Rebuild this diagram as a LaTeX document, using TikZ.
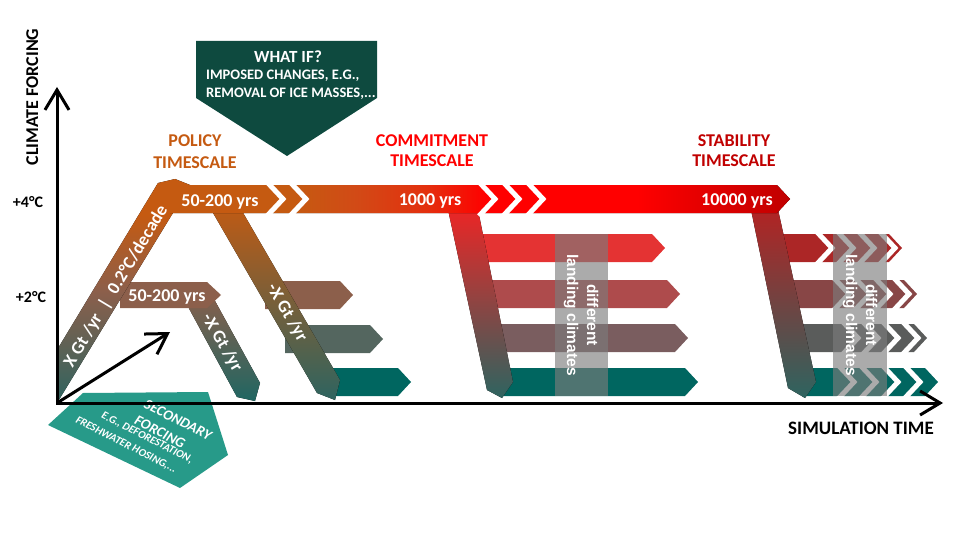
\documentclass[tikz,border=0pt]{standalone}
\usepackage{fontspec}
\setmainfont{Carlito}
\newfontfamily\arialfont{Liberation Sans}
\usetikzlibrary{arrows.meta}
\definecolor{cOr}{HTML}{C55A11}
\definecolor{cOrB}{HTML}{D24A16}
\definecolor{cRO}{HTML}{E3300E}
\definecolor{cRed}{HTML}{FF0000}
\definecolor{cDRed}{HTML}{C00000}
\definecolor{cBrown}{HTML}{8C5F4B}
\definecolor{cDM}{HTML}{9A5C40}
\definecolor{cTealG}{HTML}{2E6460}
\definecolor{cTeal}{HTML}{006660}
\definecolor{cTealB}{HTML}{1F6662}
\definecolor{cWhatIf}{HTML}{0E4A3F}
\definecolor{cSec}{HTML}{279A89}
\definecolor{cB2}{HTML}{54665F}
\definecolor{cC1}{HTML}{E43333}
\definecolor{cC2}{HTML}{AE4B4C}
\definecolor{cC3}{HTML}{7A5D5F}
\definecolor{cS1}{HTML}{AC2626}
\definecolor{cS2}{HTML}{884646}
\definecolor{cS3}{HTML}{5A5C5B}
\definecolor{cCT}{HTML}{F02424}
\definecolor{cCM}{HTML}{C04848}
\definecolor{cST}{HTML}{B52222}
\definecolor{cSM}{HTML}{8E3E3E}
\definecolor{cStab}{HTML}{C00000}
\pgfdeclarehorizontalshading{topband}{100bp}{color(0bp)=(cOr); color(35bp)=(cOr); color(40bp)=(cOrB); color(45.6bp)=(cRO); color(50.5bp)=(cRed); color(62.7bp)=(cRed); color(75bp)=(cDRed); color(100bp)=(cDRed)}
\pgfdeclareverticalshading{riseband}{100bp}{color(0bp)=(cTealG); color(25bp)=(cTealG); color(50bp)=(cBrown); color(67bp)=(cOr); color(100bp)=(cOr)}
\newcommand\myarrow[4]{\fill[#1] (#2,#3-14) -- (#4,#3-14) -- (#4+13,#3) -- (#4,#3+14) -- (#2,#3+14) -- cycle;}
\newcommand\mygap[2]{\draw[gapline] (#1-3,#2-17) -- (#1+13,#2) -- (#1-3,#2+17);}
\tikzset{
  lbl/.style={text=white, font=\bfseries\fontsize{18}{20}\selectfont, inner sep=0pt},
  ttl/.style={font=\bfseries\fontsize{18}{21}\selectfont, inner sep=0pt, anchor=base},
  axlbl/.style={font=\bfseries\fontsize{16}{18}\selectfont, inner sep=0pt, anchor=base},
  gapline/.style={draw=white, line width=5pt, line join=miter},
  veil/.style={fill={rgb,255:red,124;green,124;blue,124}, fill opacity=0.64},
  landing/.style={text=white, font=\arialfont\bfseries\fontsize{15.5}{20}\selectfont, align=center, rotate=-90, inner sep=0pt},
  sectxt/.style={text=white, font=\bfseries\itshape\fontsize{14.5}{16}\selectfont, rotate=-27, inner sep=0pt},
  secsmall/.style={text=white, font=\bfseries\itshape\fontsize{11}{12}\selectfont, rotate=-27, inner sep=0pt},
  axisline/.style={line width=3pt, black, line join=miter},
  barb/.tip={Straight Barb[length=20pt,width=24pt]},
}
\begin{document}
\begin{tikzpicture}[x=1pt,y=-1pt]
\useasboundingbox (0,0) rectangle (960,540);
% secondary forcing pentagon
\fill[cSec] (48,425) -- (83,393) -- (208,392) -- (228,455) -- (180,488) -- cycle;
% what if box
\fill[cWhatIf] (196,41) -- (377,41) -- (377,98) -- (287,156) -- (196,98) -- cycle;
% branch arrows of the policy diagonal
\myarrow{cBrown}{265}{295}{340}
\myarrow{cB2}{285}{339}{370}
\myarrow{cTeal}{325}{382}{398}
% commitment arrows
\myarrow{cC1}{470}{248}{652}
\myarrow{cC2}{475}{294}{667}
\myarrow{cC3}{482}{338}{675}
\myarrow{cTeal}{500}{382}{685}
% stability arrows
\myarrow{cS1}{765}{248}{889}
\myarrow{cS2}{775}{294}{904}
\myarrow{cS3}{785}{338}{914}
\myarrow{cTeal}{805}{382}{925}
\foreach \x in {819,840,861,882} {\mygap{\x}{248}}
\foreach \x in {836,857,877,896} {\mygap{\x}{294}}
\foreach \x in {845,865,885,905} {\mygap{\x}{338}}
\foreach \x in {841,863,885,907} {\mygap{\x}{382}}
% small descending diagonal and +2 band
\fill[top color=cBrown, bottom color=cTealB] (179,290) -- (209,290) -- (260,383) -- (255,401) -- (237,397) -- cycle;
\fill[cBrown] (120,282) -- (207,282) -- (221,295) -- (207,308) -- (120,308) -- cycle;
% rising diagonal
\fill[shading=riseband] (57,403) -- (57,350) -- (158,183) -- (175,179) -- (190,185) -- cycle;
% big descending diagonal
\fill[top color=cOr, middle color=cDM, bottom color=cTealG] (205,199) -- (235,199) -- (340,380) -- (335,400) -- (317,393) -- cycle;
% commitment and stability vertical bands
\fill[top color=cCT, middle color=cCM, bottom color=cTealG] (447,205) -- (477,205) -- (513,382) -- (502,398) -- (487,390) -- cycle;
\fill[top color=cST, middle color=cSM, bottom color=cTealG] (750,205) -- (777,205) -- (816,382) -- (805,398) -- (788,388) -- cycle;
% top band
\fill[shading=topband] (170,185) -- (777,185) -- (790,199) -- (777,213) -- (170,213) -- cycle;
\foreach \x in {270,293,482,506,530} {\mygap{\x}{199}}
% veils
\fill[veil] (555,234) rectangle (608,396);
\fill[veil] (833,234) rectangle (887,396);
\node[landing] (land1) at (581,315) {different\\landing climates};
\node[landing] (land2) at (860,315) {different\\landing climates};
% band labels
\node[lbl, anchor=base] (t50a) at (220,206) {50-200 yrs};
\node[lbl, anchor=base] (t1000) at (430,205) {1000 yrs};
\node[lbl, anchor=base] (t10000) at (737,205) {10000 yrs};
\node[lbl, anchor=base] (t50b) at (167,301) {50-200 yrs};
\node[lbl, rotate=59] (trise) at (116,286) {X Gt /yr\enspace|\enspace 0.2°C/decade};
\node[lbl, rotate=-60] (tbig) at (287,313) {-X Gt /yr};
\node[lbl, rotate=-60] (tsmall) at (222,343) {-X Gt /yr};
% timescale titles
\node[ttl, text=cOr] (pol1) at (195,147) {POLICY};
\node[ttl, text=cOr] (pol2) at (195,168) {TIMESCALE};
\node[ttl, text=cRed] (com1) at (432,147) {COMMITMENT};
\node[ttl, text=cRed] (com2) at (432,167) {TIMESCALE};
\node[ttl, text=cStab] (sta1) at (734,147) {STABILITY};
\node[ttl, text=cStab] (sta2) at (734,167) {TIMESCALE};
% what if text
\node[font=\bfseries\fontsize{17}{20}\selectfont, text=white, inner sep=0pt, anchor=base] (wif1) at (288,63) {WHAT IF?};
\node[font=\bfseries\fontsize{14.5}{17}\selectfont, text=white, inner sep=0pt, anchor=base west] (wif2) at (206,80) {IMPOSED CHANGES, E.G.,};
\node[font=\bfseries\fontsize{14.5}{17}\selectfont, text=white, inner sep=0pt, anchor=base west] (wif3) at (206,98) {REMOVAL OF ICE MASSES,...};
% secondary forcing text
\node[sectxt] (sec1) at (178,420) {SECONDARY};
\node[sectxt] (sec2) at (160,432) {FORCING};
\node[secsmall] (sec3) at (147,438) {E.G., DEFORESTATION,};
\node[secsmall] (sec4) at (126,445) {FRESHWATER HOSING,...};
% axes labels
\node[axlbl] (p4) at (28,207) {+4°C};
\node[axlbl] (p2) at (31,302) {+2°C};
\node[font=\bfseries\fontsize{18}{20}\selectfont, inner sep=0pt, anchor=base, rotate=90] (ylab) at (38,97) {CLIMATE FORCING};
\node[font=\bfseries\fontsize{19}{21}\selectfont, inner sep=0pt, anchor=base] (xlab) at (861,434) {SIMULATION TIME};
% axes
\coordinate (O) at (57,403);
\coordinate (Ytop) at (57,87);
\coordinate (Xend) at (943,403);
\coordinate (Sec) at (170,332);
\draw[axisline, {barb}-{barb}] (Ytop) -- (O) -- (Xend);
\draw[axisline, -{barb}] (O) -- (Sec);
\end{tikzpicture}
\end{document}
